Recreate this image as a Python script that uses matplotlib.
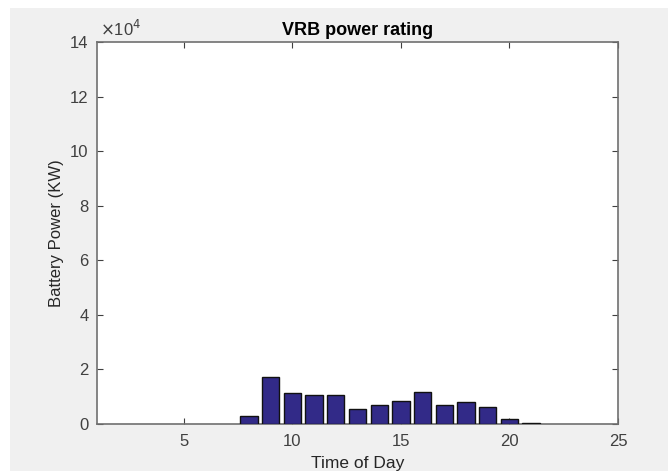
import matplotlib.pyplot as plt
from matplotlib.patches import Rectangle
from matplotlib.ticker import FuncFormatter

plt.rcParams['font.family'] = ['Liberation Sans', 'DejaVu Sans']

# hourly battery power (KW)
hours = list(range(8, 22))
power = [3000, 17300, 11200, 10700, 10800, 5500, 6800,
         8400, 11600, 6800, 8200, 6100, 1900, 200]

x_ticks = [5, 10, 15, 20, 25]
y_ticks = [0, 20000, 40000, 60000, 80000, 100000, 120000, 140000]

fig = plt.figure(figsize=(6.68, 4.71), dpi=100)
fig.patch.set_facecolor('white')
# grey MATLAB-style figure background (white strip at top and left)
fig.patches.append(Rectangle((10 / 668, 0), 1, 1 - 8 / 471,
                             transform=fig.transFigure,
                             facecolor='#f0f0f0', edgecolor='none', zorder=-1))

ax = fig.add_axes([97 / 668, 47 / 471, 521 / 668, 382 / 471])
ax.set_zorder(2)
ax.set_facecolor('white')

ax.bar(hours, power, width=0.8, color='#322a88',
       edgecolor='#111111', linewidth=1.0, zorder=3)

ax.set_xlim(1, 25)
ax.set_ylim(0, 140000)
ax.set_xticks(x_ticks)
ax.set_yticks(y_ticks)
ax.yaxis.set_major_formatter(FuncFormatter(lambda v, p: f"{v / 1e4:g}"))

# MATLAB style exponent label
ax.text(0.005, 1.008, r'$\times$10$^{4}$', transform=ax.transAxes,
        fontsize=12, color='#404040', ha='left', va='bottom')

ax.tick_params(direction='in', top=True, right=True, length=4,
               width=0.8, colors='#404040', labelsize=12)
ax.tick_params(axis='x', pad=7)
ax.tick_params(axis='y', pad=6)
for sp in ax.spines.values():
    sp.set_color('#707070')
    sp.set_linewidth(1.2)

ax.set_xlabel('Time of Day', fontsize=12.5, color='#262626', labelpad=5)
ax.set_ylabel('Battery Power (KW)', fontsize=12, color='#262626', labelpad=4)
ax.set_title('VRB power rating', fontsize=13, fontweight='bold', pad=5)

fig.savefig('out.png', dpi=100, facecolor=fig.get_facecolor())
